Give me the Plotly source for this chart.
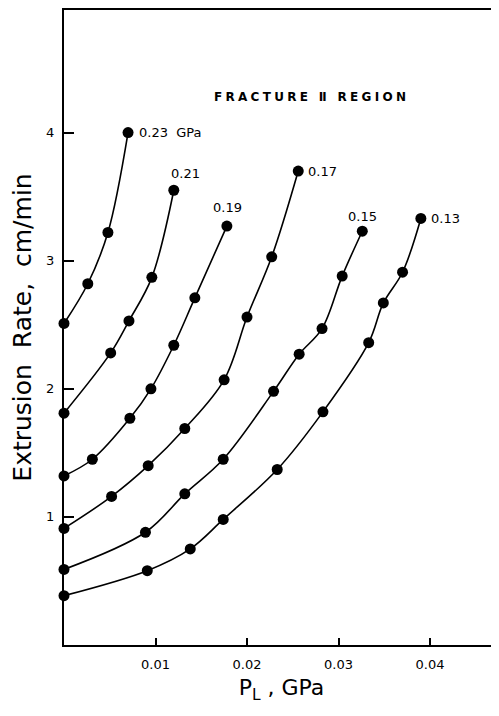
import plotly.graph_objects as go

# Pressure curve labels (GPa)
labels = ["0.23  GPa", "0.21", "0.19", "0.17", "0.15", "0.13"]

# P_L (GPa) and extrusion rate (cm/min) per curve
x_023 = [0.0, 0.0026, 0.0048, 0.0070]
y_023 = [2.51, 2.82, 3.22, 4.00]

x_021 = [0.0, 0.0051, 0.0071, 0.0096, 0.0120]
y_021 = [1.81, 2.28, 2.53, 2.87, 3.55]

x_019 = [0.0, 0.0031, 0.0072, 0.0095, 0.0120, 0.0143, 0.0178]
y_019 = [1.32, 1.45, 1.77, 2.00, 2.34, 2.71, 3.27]

x_017 = [0.0, 0.0052, 0.0092, 0.0132, 0.0175, 0.0200, 0.0227, 0.0256]
y_017 = [0.91, 1.16, 1.40, 1.69, 2.07, 2.56, 3.03, 3.70]

x_015 = [0.0, 0.0089, 0.0132, 0.0174, 0.0229, 0.0257, 0.0282, 0.0304, 0.0326]
y_015 = [0.59, 0.88, 1.18, 1.45, 1.98, 2.27, 2.47, 2.88, 3.23]

x_013 = [0.0, 0.0091, 0.0138, 0.0174, 0.0233, 0.0283, 0.0333, 0.0349, 0.0370, 0.0390]
y_013 = [0.385, 0.58, 0.75, 0.98, 1.37, 1.82, 2.36, 2.67, 2.91, 3.33]

xs = [x_023, x_021, x_019, x_017, x_015, x_013]
ys = [y_023, y_021, y_019, y_017, y_015, y_013]

x_ticks = [0.01, 0.02, 0.03, 0.04]
x_tick_text = ["0.01", "0.02", "0.03", "0.04"]
y_ticks = [1, 2, 3, 4]
y_tick_text = ["1", "2", "3", "4"]

region_text = "FRACTURE Ⅱ REGION"

FONT = "DejaVu Sans"

fig = go.Figure()
for xv, yv, name in zip(xs, ys, labels):
    fig.add_trace(go.Scatter(
        x=xv, y=yv, mode="lines+markers", name=name,
        line=dict(color="black", width=1.6, shape="spline", smoothing=1.0),
        marker=dict(color="black", size=11),
        cliponaxis=False, showlegend=False,
    ))

# label placement: (anchor, xshift, yshift)
placements = [
    ("left", 9, 0),     # 0.23 GPa right of dot
    ("center", 12, 17), # 0.21 above
    ("center", 1, 19),  # 0.19 above
    ("left", 8, 0),     # 0.17 right
    ("center", 0, 15),  # 0.15 above
    ("left", 8, 0),     # 0.13 right
]
for xv, yv, name, (anc, dx, dy) in zip(xs, ys, labels, placements):
    fig.add_annotation(
        x=xv[-1], y=yv[-1], text=name, showarrow=False,
        xanchor=anc, yanchor="middle", xshift=dx, yshift=dy,
        font=dict(family=FONT, size=13, color="black"),
    )

fig.add_annotation(
    x=0.0271, y=4.28,
    text='<span style="letter-spacing:3.3px">' + region_text + "</span>",
    showarrow=False, xanchor="center", yanchor="middle",
    font=dict(family=FONT, size=12, color="black", weight="bold"),
)

# page body has an 8px default margin; figure is sized/offset to land on the reference frame
fig.update_layout(
    width=491, height=696,
    margin=dict(l=56, r=0, t=0, b=59),
    paper_bgcolor="white", plot_bgcolor="white",
    font=dict(family=FONT, color="black"),
)
fig.update_xaxes(
    range=[0, 0.04754], tickvals=x_ticks, ticktext=x_tick_text,
    ticks="inside", ticklen=7, tickwidth=1.5, tickcolor="black",
    showline=True, linecolor="black", linewidth=2, mirror=True,
    showgrid=False, zeroline=False, ticklabelstandoff=6,
    tickfont=dict(family=FONT, size=13),
    title=dict(text="P<sub>L</sub> , GPa", font=dict(family=FONT, size=22), standoff=14),
)
fig.update_yaxes(
    range=[0, 4.957], tickvals=y_ticks, ticktext=y_tick_text,
    ticks="inside", ticklen=10, tickwidth=1.5, tickcolor="black",
    showline=True, linecolor="black", linewidth=2, mirror=False,
    showgrid=False, zeroline=False, ticklabelstandoff=5,
    tickfont=dict(family=FONT, size=13),
    title=dict(text="Extrusion  Rate,  cm/min", font=dict(family=FONT, size=25), standoff=8),
)

fig.write_html("out.html")
